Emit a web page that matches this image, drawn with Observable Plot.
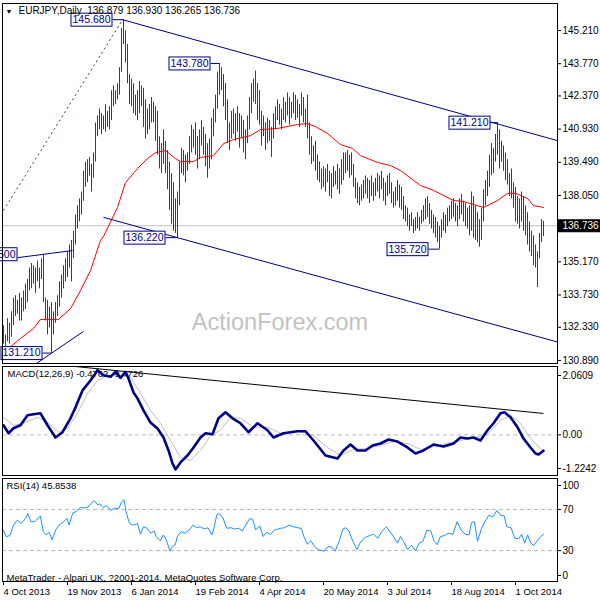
<!DOCTYPE html>
<html><head><meta charset="utf-8">
<script src="https://cdn.jsdelivr.net/npm/d3@7"></script>
<script src="https://cdn.jsdelivr.net/npm/@observablehq/plot@0.6"></script>
<style>
body{margin:0;background:#fff;}
#chart{position:relative;width:600px;height:600px;}
#chart svg{position:absolute;left:0;overflow:visible;}
#chart svg text{white-space:pre;}
</style></head><body><div id="chart"></div>
<script>
// ---------- data ----------
const symbolTitle = "EURJPY,Daily  136.879 136.930 136.265 136.736";
const lastClose = 136.736;
const watermark = "ActionForex.com";
const macdLabel = "MACD(12,26,9) -0.4762 -0.4726";
const rsiLabel = "RSI(14) 45.8538";
const footer = "MetaTrader - Alpari UK, ?2001-2014, MetaQuotes Software Corp.";
const priceTicks = [145.210,143.770,142.370,140.930,139.490,138.050,135.170,133.730,132.330,130.890];
const dateTickIdx = [0,32,64,96,128,160,192,224,256];
const dateTickLabels = ["4 Oct 2013","19 Nov 2013","6 Jan 2014","19 Feb 2014","4 Apr 2014","20 May 2014","3 Jul 2014","18 Aug 2014","1 Oct 2014"];

// daily highs / lows (bar index 0 = 4 Oct 2013)
const highs = [
132.4,132.0,132.7,132.5,133.0,133.6,133.7,133.5,133.8,133.6,
133.9,134.2,134.4,134.9,135.1,135.0,134.9,135.2,134.9,135.3,
135.45,133.6,133.5,133.2,133.4,133.0,133.4,133.7,134.3,134.6,
135.0,135.3,135.6,135.9,136.1,136.5,137.2,137.6,137.9,138.2,
139.1,139.5,139.6,139.7,139.4,139.9,141.2,141.5,141.8,141.6,
141.5,142.0,141.7,141.9,142.6,142.8,142.6,142.9,143.6,145.3,
145.68,145.2,144.6,143.3,143.1,142.9,142.4,142.6,143.0,142.8,
142.7,142.2,141.8,142.0,142.3,142.1,141.9,141.7,140.6,140.3,
140.9,140.4,140.0,139.5,139.0,138.6,137.9,138.2,139.5,140.1,
140.0,139.8,139.9,140.6,141.1,140.9,141.2,140.6,140.9,141.3,
141.0,140.7,140.3,140.5,141.4,141.8,142.4,143.4,143.78,143.6,
143.3,142.9,142.2,141.2,141.7,141.8,141.6,141.9,141.6,141.5,
141.3,140.9,141.5,142.3,142.9,143.1,143.45,142.9,142.6,141.7,
141.5,141.2,141.4,141.3,141.0,141.6,141.9,142.2,142.0,141.8,
142.3,142.1,142.5,142.3,142.1,142.5,142.4,142.2,142.0,142.5,
142.3,141.8,142.4,141.2,140.6,140.2,140.4,139.8,139.5,139.2,
139.3,139.2,139.4,139.1,139.0,139.3,139.1,139.4,139.2,139.6,
139.9,139.9,140.0,139.8,139.9,139.4,138.8,138.6,138.4,138.5,
138.7,138.9,138.8,138.7,138.9,138.6,138.8,139.0,138.9,139.1,
138.8,138.6,138.9,139.0,138.6,138.2,138.4,138.7,138.5,138.4,
138.0,137.6,137.5,137.2,137.3,137.0,137.1,137.3,137.1,137.4,
137.6,137.9,138.0,137.7,137.4,137.2,137.1,136.9,136.7,137.0,
137.3,137.2,137.5,137.6,137.8,137.9,137.7,137.6,137.9,138.1,
137.8,137.7,137.5,137.6,138.2,138.0,137.6,137.3,137.0,137.5,
138.3,138.7,139.1,139.8,140.3,140.1,140.7,141.21,140.9,140.4,
140.2,139.9,139.6,139.0,139.2,138.6,138.4,138.0,137.9,138.2,
138.0,137.6,137.3,136.9,136.5,136.3,135.9,135.6,136.4,137.0,
136.93];
const lows = [
131.6,131.5,131.7,131.6,131.9,132.4,132.8,132.9,132.6,132.6,
133.0,133.1,133.4,133.9,134.0,134.2,133.8,134.3,134.0,134.4,
133.4,132.6,132.0,132.3,131.21,132.0,132.5,132.8,133.2,133.6,
134.0,134.3,134.5,134.9,134.3,135.3,135.9,136.6,136.9,137.2,
137.8,138.4,138.6,138.9,138.2,138.8,139.5,140.6,140.9,140.7,
140.9,140.8,141.0,140.9,141.3,141.9,142.0,142.2,142.4,143.4,
144.6,143.8,142.9,142.0,141.9,141.6,141.5,141.3,141.6,141.9,
141.0,140.5,140.7,140.9,141.2,141.2,140.4,139.8,139.2,139.0,
139.4,139.0,138.3,137.4,136.8,136.5,136.4,136.22,137.6,139.0,
138.9,138.6,139.1,139.4,139.9,140.1,139.8,139.2,139.6,140.2,
139.8,139.3,138.8,139.2,139.6,140.6,141.2,141.8,142.4,142.6,
141.9,141.3,140.3,140.0,140.5,140.7,140.4,140.8,140.1,140.5,
139.9,139.6,140.3,140.9,141.6,142.1,142.0,141.3,141.1,140.2,
140.6,140.0,140.3,140.4,139.7,140.5,140.9,141.3,141.1,140.9,
141.3,141.2,141.5,141.1,141.4,141.6,141.3,141.4,141.0,141.5,
141.2,141.0,140.5,139.8,139.4,139.5,139.1,138.7,138.6,138.3,
138.4,138.2,138.6,138.0,137.9,138.4,138.5,138.3,138.1,138.5,
138.7,139.0,139.1,138.8,138.9,138.4,137.9,137.7,137.6,137.8,
137.9,138.1,137.9,137.7,138.0,137.8,138.0,138.2,137.9,138.3,
137.8,137.6,138.0,138.1,137.7,137.5,137.6,137.8,137.5,137.4,
137.0,136.9,136.7,136.5,136.7,136.4,136.5,136.6,136.5,136.8,
136.9,137.0,137.1,136.8,136.6,136.4,136.2,136.0,135.72,136.2,
136.5,136.4,136.7,136.9,137.0,137.1,136.9,136.7,137.0,137.2,
136.9,136.7,136.6,136.3,136.5,136.2,136.1,136.0,135.8,136.1,
136.9,137.6,138.0,138.4,138.9,139.0,139.5,139.8,139.2,139.5,
139.1,138.7,138.5,138.0,137.9,137.5,136.9,136.8,136.6,136.9,
136.5,136.3,135.9,135.6,135.4,135.0,134.9,134.05,135.3,136.0,
136.265];

// moving average (read points)
const maIdx = [0,3.5,8.5,15,18.5,27.5,33.5,38.5,43.5,48.5,50,57,61,67,72,76,81,86,88.5,95,98.5,105,110,115,123.5,128.5,137,147,152,156,162,168.5,174.5,178.5,187,193.5,198.5,208.5,215,225,230,240,247,252,256,262,265,270];
const maVal = [131.49,131.49,131.84,132.28,132.67,132.67,133.14,133.92,134.79,136.10,136.27,137.53,138.61,139.22,139.65,139.91,140.00,139.65,139.52,139.52,139.70,139.78,140.30,140.48,140.65,140.91,140.96,141.13,141.17,141.04,140.74,140.26,140.09,139.78,139.48,139.35,139.13,138.48,138.27,137.83,137.79,137.53,137.83,138.14,138.14,137.92,137.61,137.53];

// pivot labels
const pivotIdx = [60,108,87,247,218,24,7];
const pivotVal = [145.68,143.78,136.22,141.21,135.72,131.21,135.50];
const pivotGap = [11,9,12,7,11,9,0];
const pivotText = ["145.680","143.780","136.220","141.210","135.720","131.210","135.500"];

// trend lines
const chan1 = [59.5,145.68,277,140.43];
const chan2 = [50,137.10,277,131.69];
const chan3 = [7,135.35,34.5,135.66];
const chan4 = [16.5,130.76,40,132.15];
const dashLine = [0,137.40,59,145.60];

// MACD
const macdIdx = [0,2.5,5,8.5,12,15,18.5,22,26,29.5,33.5,36,39.5,43.5,47,50,53.5,56,58.5,61,62.5,65,67,70,73.5,77,80,82.5,84.5,86,88.5,92,95,98.5,101,104.5,107.5,111,114.5,118.5,122.5,127,132,135,140,147,151,155,161,167,170,173.5,177,181,184.5,188.5,192.5,197,202,206,210,215,220,225,228.5,232,235,238.5,242,245,248.5,250.5,253.5,257,260,263.5,266,267.5,270];
const macdVal = [0.29,0.05,0.20,0.29,0.59,0.62,0.65,0.29,-0.08,0.08,0.50,0.83,1.34,1.64,1.95,1.80,1.75,1.90,1.72,1.90,1.70,1.28,1.10,0.74,0.37,0.19,-0.08,-0.47,-0.86,-1.04,-0.83,-0.62,-0.38,-0.08,0.05,0.02,0.50,0.68,0.50,0.35,0.08,0.35,0.14,-0.08,0.05,0.11,0.11,-0.17,-0.62,-0.71,-0.47,-0.29,-0.47,-0.47,-0.32,-0.26,-0.14,-0.20,-0.38,-0.56,-0.47,-0.29,-0.35,-0.26,-0.08,-0.11,-0.08,-0.17,0.14,0.35,0.65,0.68,0.53,0.23,-0.11,-0.38,-0.56,-0.59,-0.476];
const sigIdx = [0,5,10,17,22,27.5,32,37,42,47,52,58.5,63.5,68.5,73.5,78.5,83.5,88.5,93.5,98.5,103.5,108.5,113.5,118.5,125,132,138.5,145,148.5,155,162,168.5,175,182,188.5,195,202,208.5,215,222,228.5,235,242,248.5,253.5,258.5,263.5,268.5,270];
const sigVal = [0.53,0.29,0.35,0.53,0.38,0.08,0.20,0.65,1.25,1.64,1.79,1.79,1.73,1.25,0.74,0.35,-0.17,-0.68,-0.77,-0.47,-0.02,0.14,0.53,0.50,0.23,0.23,0.05,0.08,0.11,-0.02,-0.38,-0.62,-0.44,-0.41,-0.32,-0.20,-0.26,-0.44,-0.35,-0.26,-0.17,-0.08,0.02,0.44,0.59,0.35,-0.11,-0.41,-0.4726];
const macdTrend = [36,2.06,270,0.645];

// RSI
const rsiIdx = [0,1.3,3.2,5,6.9,8.9,10.9,12.2,13.7,15.6,17.4,18.4,19.9,21.3,22.8,24.3,26.1,27.8,29.8,31.8,32.8,34.7,36.5,38.5,40.2,42.2,45.2,47.1,48.1,49.9,51.4,53.6,55.6,57.6,59.1,60.3,61.3,63,65,67,68.5,70,71.8,73.6,75.4,76.4,78.4,79.9,81.4,83.2,84.4,85.9,86.9,88.8,90.8,92.8,94.8,96.5,98.3,100.3,102.2,104.2,105.2,106.7,107.9,109.7,111.7,113.7,115.6,117.6,119.4,121.1,123.1,124.6,126.1,128.1,129.8,131.5,133.5,135.5,138.4,140.4,142.9,144.9,146.9,148.9,150.2,151.9,153.6,155.5,157.3,160.3,162.3,164.3,165.8,167.8,169.7,171.2,172.7,174.7,176.7,178.2,180.6,183.1,185.1,187.1,189.1,191.5,193.1,194.5,197,198.5,200,202,204,206,207.9,209.7,211.7,213.6,215.4,216.9,218.4,220.4,222.3,224.7,226.8,228.8,230.8,232.8,234,235.5,237,239,240.7,242.7,244.7,246.7,248.6,250.4,251.6,253.8,255.6,257.6,259.1,260.6,262.1,263.6,265.1,266.6,268.6,270];
const rsiVal = [50,43.6,44.6,54.8,59.5,56.3,61,65.9,58,58,61.7,63.6,48.4,45.2,47.8,40.5,50,54.8,58,61,54.8,66.8,68,72.2,71.3,72.2,78.6,74.4,75.4,71.6,73.8,69,71.3,70.6,77.6,79.5,67.5,56.3,54.8,56.3,45.9,53.2,51.6,46.8,49,43.6,39.5,45.2,40.5,29.4,34,35.7,43.6,48.4,46.8,50,54.8,52.2,53.2,51,52.2,45.2,51.6,64.9,65.9,61.7,51.6,52.2,51,51.6,49,54.8,61,60.5,50,54,43.6,47.8,45.9,50,51.6,52.2,54.8,53.2,52.2,51.6,43.6,36.3,39.5,34.1,31,29.4,34.1,33.2,29.4,38.9,51,52.2,49,38.9,31,37.3,42.7,44.6,45.9,42,48.4,53.2,48.4,45.2,37.3,43.6,38.9,31,35,30,37.3,38.9,50,49,38.9,35.7,43.6,44.6,46.8,45.9,58,50,45.9,45.2,57.3,58,38.9,51.6,58,64.3,62.7,69,64.3,63.6,53.2,52.2,42,41.4,45.9,37.3,45.2,37.3,35,38.9,43.6,45.85];

// ---------- build ----------
const FONT = "'Liberation Sans', Arial, sans-serif";
const NAVY = "#000080";
const BAR = "#1b4a60";
const xDomain = [-0.5, 277];
const bars = highs.map((h, i) => ({i, h, l: lows[i]}));
const ma = maIdx.map((i, k) => ({i, v: maVal[k]}));
const macd = macdIdx.map((i, k) => ({i, v: macdVal[k]}));
const sig = sigIdx.map((i, k) => ({i, v: sigVal[k]}));
const rsi = rsiIdx.map((i, k) => ({i, v: rsiVal[k]}));
const pivots = pivotIdx.map((i, k) => ({i, v: pivotVal[k], gap: pivotGap[k], t: pivotText[k]}));
const seg = a => ({x1: a[0], y1: a[1], x2: a[2], y2: a[3]});
const chans = [chan1, chan2, chan3, chan4].map(seg);

const style = {fontFamily: FONT, fontSize: "10px", background: "transparent", color: "black"};
const ax = {anchor: "right", tickSize: 3, tickPadding: 2, label: null, fill: "black", fontSize: 10};

const main = Plot.plot({
  width: 600, height: 365, marginLeft: 2, marginRight: 43, marginTop: 3, marginBottom: 2,
  x: {domain: xDomain, axis: null},
  y: {domain: [130.757, 146.382], axis: null},
  style,
  marks: [
    Plot.text([watermark], {frameAnchor: "bottom", dy: -41, lineAnchor: "middle", fontSize: 23.5, fill: "#c2c2c2"}),
    Plot.ruleY([lastClose], {stroke: "#c0c0c0"}),
    Plot.link([seg(dashLine)], {x1: "x1", y1: "y1", x2: "x2", y2: "y2", stroke: "#1b4a60", strokeDasharray: "2,3"}),
    Plot.ruleX(bars, {x: "i", y1: "l", y2: "h", stroke: BAR, strokeWidth: 1}),
    Plot.line(ma, {x: "i", y: "v", stroke: "#ff0000", strokeWidth: 1}),
    Plot.link(chans, {x1: "x1", y1: "y1", x2: "x2", y2: "y2", stroke: NAVY, strokeWidth: 1}),
    Plot.link(pivots.filter(d => d.gap > 0), {x1: d => d.i - d.gap / 2, x2: "i", y1: "v", y2: "v", stroke: NAVY}),
    Plot.text(pivots, {x: "i", y: "v", text: "t", textAnchor: "end", fill: NAVY, fontSize: 10.5, className: "boxlbl"}),
    Plot.frame({stroke: "black"}),
    Plot.axisY({...ax, ticks: priceTicks, tickFormat: d => d.toFixed(3)}),
    Plot.text([lastClose], {x: xDomain[1], y: d => d, text: d => d.toFixed(3), textAnchor: "start", dx: 5, fill: "white", fontSize: 10, className: "curlbl"}),
    Plot.text(["▼"], {frameAnchor: "top-left", dx: 3, dy: 6, lineAnchor: "top", fontSize: 7, fill: "black"}),
    Plot.text([symbolTitle], {frameAnchor: "top-left", dx: 16, dy: 3, lineAnchor: "top", fontSize: 10, fill: "black"})
  ]
});

const macdPlot = Plot.plot({
  width: 600, height: 112, marginLeft: 2, marginRight: 43, marginTop: 1, marginBottom: 2,
  x: {domain: xDomain, axis: null},
  y: {domain: [-1.2242, 2.0609], axis: null},
  style,
  marks: [
    Plot.ruleY([0], {stroke: "#b8b8b8", strokeDasharray: "4,3"}),
    Plot.text([macdLabel], {frameAnchor: "top-left", dx: 5, dy: 4, lineAnchor: "top", fontSize: 9.5, fill: "black"}),
    Plot.line(sig, {x: "i", y: "v", stroke: "#c0c0c0", strokeWidth: 1}),
    Plot.line(macd, {x: "i", y: "v", stroke: "#00008c", strokeWidth: 2.6}),
    Plot.link([seg(macdTrend)], {x1: "x1", y1: "y1", x2: "x2", y2: "y2", stroke: "black"}),
    Plot.frame({stroke: "black"}),
    Plot.axisY({...ax, ticks: [2.0609], tickFormat: d => d.toFixed(4), dy: 9}),
    Plot.axisY({...ax, ticks: [0], tickFormat: () => "0.00"}),
    Plot.axisY({...ax, ticks: [-1.2242], tickFormat: d => d.toFixed(4), dy: -7})
  ]
});

const rsiPlot = Plot.plot({
  width: 600, height: 123, marginLeft: 2, marginRight: 43, marginTop: 1, marginBottom: 19,
  x: {domain: xDomain, axis: null},
  y: {domain: [0, 100], axis: null},
  style,
  marks: [
    Plot.ruleY([70, 30], {stroke: "#b8b8b8", strokeDasharray: "4,3"}),
    Plot.text([rsiLabel], {frameAnchor: "top-left", dx: 4, dy: 4, lineAnchor: "top", fontSize: 9.5, fill: "black"}),
    Plot.text([footer], {frameAnchor: "bottom-left", dx: 4, dy: -1, lineAnchor: "bottom", fontSize: 9.5, fill: "black"}),
    Plot.line(rsi, {x: "i", y: "v", stroke: "#1e90ff", strokeWidth: 1}),
    Plot.frame({stroke: "black"}),
    Plot.axisY({...ax, ticks: [100], dy: 7}),
    Plot.axisY({...ax, ticks: [70, 30]}),
    Plot.axisY({...ax, ticks: [0], dy: -6}),
    Plot.axisX({anchor: "bottom", ticks: dateTickIdx, tickFormat: d => dateTickLabels[dateTickIdx.indexOf(d)], tickSize: 4, tickPadding: 3, textAnchor: "start", fontSize: 9.5, fill: "black", label: null})
  ]
});

const chart = document.getElementById("chart");
main.style.top = "0px";
macdPlot.style.top = "365px";
rsiPlot.style.top = "477px";
chart.append(main, macdPlot, rsiPlot);

function boxify(svg, cls, fill, stroke, padL, padR, padY) {
  svg.querySelectorAll(`g.${cls} text`).forEach(t => {
    const b = t.getBBox();
    const r = document.createElementNS("http://www.w3.org/2000/svg", "rect");
    r.setAttribute("x", Math.round(b.x - padL) + 0.5);
    r.setAttribute("y", Math.round(b.y - padY) + 0.5);
    r.setAttribute("width", Math.round(b.width + padL + padR));
    r.setAttribute("height", Math.round(b.height + 2 * padY));
    r.setAttribute("fill", fill);
    r.setAttribute("stroke", stroke);
    const tr = t.getAttribute("transform");
    if (tr) r.setAttribute("transform", tr);
    t.parentNode.insertBefore(r, t);
  });
}
// shift pivot labels left of their pivot by their gap
main.querySelectorAll("g.boxlbl text").forEach((t, k) => {
  const g = pivots[k] ? pivots[k].gap : 0;
  t.setAttribute("dx", -(g + 2));
});
boxify(main, "boxlbl", "white", NAVY, 2, 1, 0.5);
boxify(main, "curlbl", "black", "none", 5, 8, 1);
</script></body></html>
